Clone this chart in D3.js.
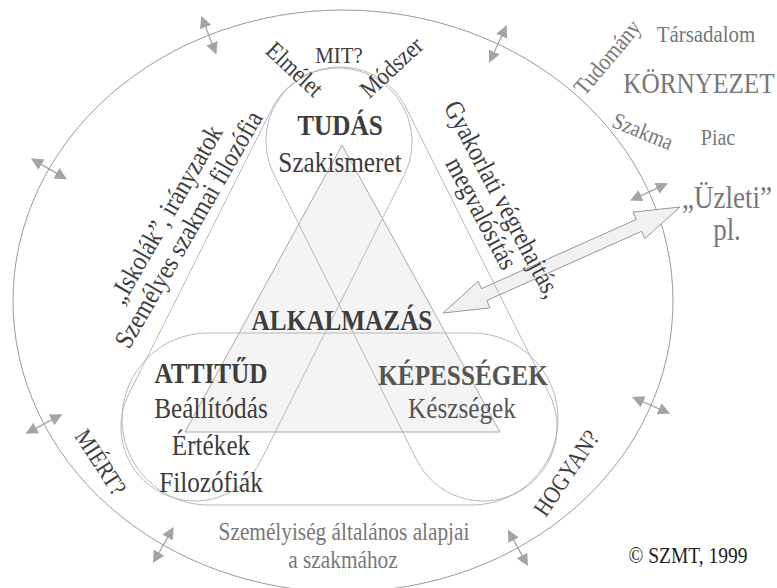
<!DOCTYPE html>
<html>
<head>
<meta charset="utf-8">
<script src="https://cdn.jsdelivr.net/npm/d3@7"></script>
<style>
  html, body { margin: 0; padding: 0; background: #fff; }
  svg { display: block; }
  text { font-family: "Liberation Serif", "Times New Roman", serif; }
</style>
</head>
<body>
<div id="chart"></div>
<script>
// Competence model texts
const cornerTitles = ['TUDÁS', 'ATTITŰD', 'KÉPESSÉGEK'];
const cornerNotes = [['Szakismeret'], ['Beállítódás', 'Értékek', 'Filozófiák'], ['Készségek']];
const centreTitle = 'ALKALMAZÁS';
const sideNotes = [['„Iskolák”, irányzatok', 'Személyes szakmai filozófia'], ['Gyakorlati végrehajtás,', 'megvalósítás']];
const questions = ['MIT?', 'MIÉRT?', 'HOGYAN?'];
const knowledgeParts = ['Elmélet', 'Módszer'];
const environment = ['Tudomány', 'Társadalom', 'KÖRNYEZET', 'Szakma', 'Piac'];
const example = ['„Üzleti”', 'pl.'];
const baseNote = ['Személyiség általános alapjai', 'a szakmához'];
const credit = '© SZMT, 1999';

// where the small two-way arrows cross the ring (degrees on the ellipse)
const exchangeAngles = [-114, -153, -62, -22, 155, 123, 21, 58];

const W = 777, H = 588;
const dark = '#3d3d3d', grey = '#777';

const svg = d3.select('#chart')
  .append('svg')
  .attr('width', W)
  .attr('height', H)
  .attr('viewBox', [0, 0, W, H]);

// geometry
const ring = { cx: 343, cy: 301, rx: 330, ry: 291 };
const tri = [[342, 145], [185, 432], [500, 432]];
const loops = [
  { a: [338, 142], b: [195, 427], r: 74 },
  { a: [340, 141], b: [483, 427], r: 74 },
  { a: [208, 419], b: [472, 419], r: 86 }
];

// outer ring
svg.append('ellipse')
  .attr('cx', ring.cx).attr('cy', ring.cy)
  .attr('rx', ring.rx).attr('ry', ring.ry)
  .attr('fill', 'none')
  .attr('stroke', '#9a9a9a')
  .attr('stroke-width', 1);

// triangle
svg.append('path')
  .attr('d', d3.line()(tri) + 'Z')
  .attr('fill', '#f4f4f4')
  .attr('stroke', '#a8a8a8')
  .attr('stroke-width', 1);

// big two-way arrow towards the "Üzleti" example
const bigA = [443, 313], bigB = [680, 207];
function bigArrow(p, q, hl, hw, sw) {
  const dx = q[0] - p[0], dy = q[1] - p[1], len = Math.hypot(dx, dy);
  const ux = dx / len, uy = dy / len, vx = -uy, vy = ux;
  const at = (base, s, t) => [base[0] + ux * s + vx * t, base[1] + uy * s + vy * t];
  return [
    p, at(p, hl, hw), at(p, hl, sw), at(q, -hl, sw), at(q, -hl, hw), q,
    at(q, -hl, -hw), at(q, -hl, -sw), at(p, hl, -sw), at(p, hl, -hw)
  ];
}
svg.append('path')
  .attr('d', d3.line()(bigArrow(bigA, bigB, 45, 14.5, 6.5)) + 'Z')
  .attr('fill', '#f1f1f1')
  .attr('stroke', '#8c8c8c')
  .attr('stroke-width', 0.9);

// capsule loops, each drawn with a faint double outline
function capsule(p1, p2, r) {
  const dx = p2[0] - p1[0], dy = p2[1] - p1[1], len = Math.hypot(dx, dy);
  const nx = -dy / len * r, ny = dx / len * r;
  const a = Math.atan2(ny, nx);
  const p = d3.path();
  p.moveTo(p1[0] + nx, p1[1] + ny);
  p.lineTo(p2[0] + nx, p2[1] + ny);
  p.arc(p2[0], p2[1], r, a, a - Math.PI, true);
  p.lineTo(p1[0] - nx, p1[1] - ny);
  p.arc(p1[0], p1[1], r, a + Math.PI, a, true);
  p.closePath();
  return p.toString();
}
svg.append('g')
  .selectAll('path')
  .data(loops)
  .join('path')
  .attr('d', d => capsule(d.a, d.b, d.r))
  .attr('fill', 'none')
  .attr('stroke', '#b0b0b0')
  .attr('stroke-width', 0.9);

// small exchange arrows across the ring
const defs = svg.append('defs');
defs.append('marker')
  .attr('id', 'head')
  .attr('viewBox', '0 0 10 10')
  .attr('refX', 9).attr('refY', 5)
  .attr('markerUnits', 'userSpaceOnUse')
  .attr('markerWidth', 12).attr('markerHeight', 12)
  .attr('orient', 'auto-start-reverse')
  .append('path')
  .attr('d', 'M0,0L10,5L0,10Z')
  .attr('fill', '#a4a4a4');

const half = 19.5;
svg.append('g')
  .selectAll('line')
  .data(exchangeAngles)
  .join('line')
  .each(function(deg) {
    const t = deg * Math.PI / 180;
    const px = ring.cx + ring.rx * Math.cos(t), py = ring.cy + ring.ry * Math.sin(t);
    let nx = Math.cos(t) / ring.rx, ny = Math.sin(t) / ring.ry;
    const l = Math.hypot(nx, ny); nx /= l; ny /= l;
    d3.select(this)
      .attr('x1', px - nx * half).attr('y1', py - ny * half)
      .attr('x2', px + nx * half).attr('y2', py + ny * half);
  })
  .attr('stroke', '#a4a4a4')
  .attr('stroke-width', 1.3)
  .attr('marker-start', 'url(#head)')
  .attr('marker-end', 'url(#head)');

// placement of every text: x, y, size, rotation, weight, colour
const place = {};
const put = (txt, x, y, size, opt = {}) => { place[txt] = Object.assign({ x, y, size }, opt); };

put(cornerTitles[0], 340, 135, 29, { bold: true });
put(cornerNotes[0][0], 340, 172, 29);
put(cornerTitles[1], 211, 383, 29, { bold: true });
cornerNotes[1].forEach((t, i) => put(t, 211, 418 + i * 37, 29));
put(cornerTitles[2], 463, 385, 29, { bold: true, fill: '#555' });
put(cornerNotes[2][0], 462, 418, 29, { fill: '#555' });
put(centreTitle, 342, 330, 29, { bold: true });

put(sideNotes[0][0], 165, 214, 27, { rot: -60 });
put(sideNotes[0][1], 188, 229, 27, { rot: -60 });
put(sideNotes[1][0], 503, 199, 27, { rot: 62 });
put(sideNotes[1][1], 482, 213, 27, { rot: 62 });

put(questions[0], 339, 63, 24);
put(questions[1], 101, 462, 24, { rot: 57 });
put(questions[2], 566, 473, 24, { rot: -56 });
put(knowledgeParts[0], 295, 69, 25, { rot: 43 });
put(knowledgeParts[1], 391, 67, 25, { rot: -43 });

put(environment[0], 607, 57, 24, { rot: -50, fill: grey });
put(environment[1], 706, 42, 24, { fill: grey });
put(environment[2], 699, 93, 29, { fill: grey });
put(environment[3], 643, 131, 23, { rot: 22, fill: grey });
put(environment[4], 718, 145, 23, { fill: grey });
put(example[0], 727, 208, 31, { fill: grey });
put(example[1], 727, 240, 31, { fill: grey });

put(baseNote[0], 344, 540, 24.5, { fill: grey });
put(baseNote[1], 343, 568, 24.5, { fill: grey });
put(credit, 688, 563, 22.4, { fill: '#222' });

const labels = Object.entries(place).map(([text, p]) => Object.assign({ text }, p));

svg.append('g')
  .selectAll('text')
  .data(labels)
  .join('text')
  .attr('transform', d => `translate(${d.x},${d.y}) rotate(${d.rot || 0}) scale(0.87,1)`)
  .attr('text-anchor', 'middle')
  .attr('dy', d => d.rot ? '0.35em' : null)
  .attr('font-size', d => d.size + 'px')
  .attr('font-weight', d => d.bold ? 'bold' : 'normal')
  .attr('fill', d => d.fill || dark)
  .text(d => d.text);
</script>
</body>
</html>
